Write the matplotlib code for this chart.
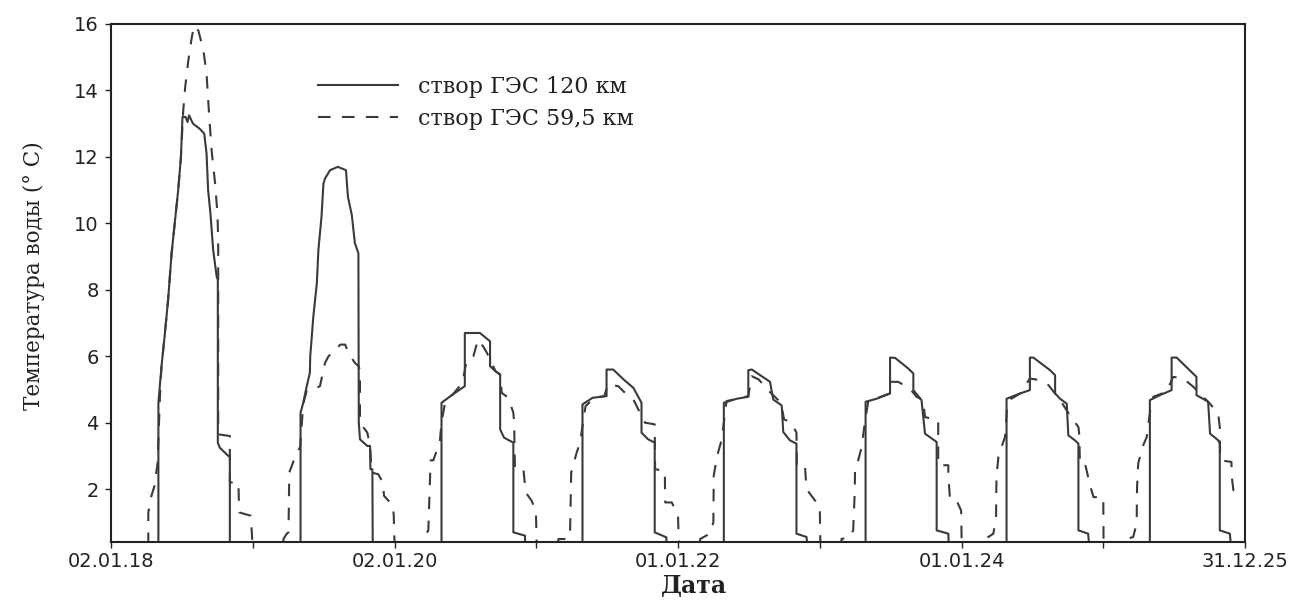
import numpy as np
import matplotlib
matplotlib.use("Agg")
import matplotlib.pyplot as plt
import matplotlib.dates as mdates
from matplotlib.ticker import FixedLocator

# Начало ряда и подписи оси времени
start = np.datetime64("2018-01-02")
major_days = [0, 730, 1460, 2190, 2920]
minor_days = [365, 1095, 1825, 2555]

# Створ ГЭС 120 км (сплошная) - сутки от начала ряда и температура по сезонам
days_120 = [
    [0, 122, 122, 130, 138, 147, 156, 165, 173, 180, 184, 192, 197, 201, 211, 228, 240, 246, 250, 256,
     263, 272, 275, 275, 280, 302, 306, 306],
    [488, 488, 495, 504, 512, 513, 521, 530, 534, 542, 547, 551, 564, 584, 605, 610, 620, 628, 637, 638,
     641, 660, 667, 668, 673, 674],
    [851, 851, 880, 911, 911, 950, 976, 976, 990, 1002, 1002, 1012, 1036, 1036, 1066, 1067],
    [1214, 1214, 1240, 1276, 1276, 1293, 1320, 1345, 1366, 1366, 1383, 1400, 1400, 1430, 1431],
    [1578, 1578, 1611, 1641, 1641, 1650, 1697, 1705, 1727, 1731, 1748, 1765, 1765, 1791, 1795],
    [1943, 1943, 1971, 2006, 2006, 2019, 2053, 2066, 2066, 2087, 2096, 2126, 2126, 2156, 2158],
    [2306, 2306, 2341, 2366, 2366, 2375, 2418, 2431, 2431, 2444, 2461, 2465, 2482, 2491, 2491, 2516, 2521],
    [2675, 2675, 2701, 2731, 2731, 2744, 2795, 2795, 2825, 2830, 2851, 2855, 2855, 2881, 2886],
]
temp_120 = [
    [0, 0, 4.6, 5.7, 6.6, 7.7, 9.1, 10.1, 11.0, 12.0, 13.2, 13.2, 13.05, 13.25, 13.0, 12.85, 12.7, 12.1,
     11.0, 10.3, 9.2, 8.4, 8.3, 3.4, 3.25, 3.0, 3.0, 0],
    [0, 4.3, 4.6, 5.1, 5.5, 6.0, 7.2, 8.2, 9.2, 10.2, 11.2, 11.35, 11.6, 11.7, 11.6, 10.8, 10.25, 9.4,
     9.1, 4.0, 3.5, 3.3, 3.3, 2.6, 2.6, 0],
    [0, 4.6, 4.85, 5.1, 6.7, 6.7, 6.45, 5.7, 5.55, 5.45, 3.8, 3.55, 3.4, 0.7, 0.6, 0],
    [0, 4.55, 4.75, 4.8, 5.6, 5.6, 5.3, 5.05, 4.6, 3.7, 3.5, 3.4, 0.7, 0.55, 0],
    [0, 4.6, 4.72, 4.78, 5.58, 5.6, 5.23, 4.7, 4.52, 3.72, 3.47, 3.37, 0.66, 0.56, 0],
    [0, 4.63, 4.72, 4.88, 5.96, 5.95, 5.63, 5.48, 4.98, 4.68, 3.67, 3.42, 0.76, 0.66, 0],
    [0, 4.72, 4.88, 4.98, 5.96, 5.96, 5.58, 5.43, 4.88, 4.72, 4.57, 3.62, 3.47, 3.37, 0.76, 0.66, 0],
    [0, 4.68, 4.83, 4.98, 5.96, 5.96, 5.38, 4.83, 4.63, 3.67, 3.47, 3.37, 0.76, 0.66, 0],
]

# Створ ГЭС 59,5 км (пунктир)
days_595 = [
    [0, 96, 96, 104, 112, 120, 126, 130, 138, 147, 156, 165, 173, 180, 186, 191, 199, 208, 214, 225,
     238, 246, 253, 259, 268, 274, 276, 276, 306, 306, 328, 330, 360, 366],
    [444, 444, 452, 457, 459, 474, 487, 495, 504, 521, 538, 551, 560, 580, 590, 603, 611, 628, 637, 641,
     641, 660, 667, 671, 688, 700, 703, 726, 728, 731],
    [800, 800, 817, 823, 830, 839, 847, 851, 860, 880, 905, 916, 933, 945, 958, 968, 980, 990, 1002, 1006,
     1023, 1036, 1038, 1040, 1062, 1066, 1068, 1083, 1094, 1097],
    [1150, 1152, 1178, 1182, 1185, 1199, 1208, 1214, 1222, 1245, 1270, 1280, 1306, 1332, 1345, 1362,
     1375, 1400, 1401, 1426, 1427, 1444, 1460, 1463],
    [1515, 1517, 1542, 1551, 1552, 1560, 1572, 1578, 1585, 1611, 1641, 1650, 1668, 1690, 1725, 1733,
     1752, 1765, 1766, 1787, 1791, 1812, 1825, 1827],
    [1880, 1881, 1903, 1911, 1915, 1916, 1924, 1933, 1941, 1950, 1975, 2005, 2006, 2027, 2057, 2074,
     2091, 2096, 2130, 2130, 2156, 2156, 2160, 2173, 2189, 2191],
    [2249, 2251, 2272, 2279, 2280, 2285, 2293, 2302, 2307, 2315, 2341, 2366, 2392, 2414, 2444, 2469,
     2491, 2493, 2495, 2508, 2516, 2522, 2530, 2555, 2556],
    [2614, 2615, 2632, 2641, 2642, 2645, 2656, 2667, 2675, 2684, 2718, 2735, 2761, 2787, 2804, 2830,
     2851, 2855, 2856, 2885, 2886, 2890, 2903, 2920],
]
temp_595 = [
    [0, 0, 1.3, 1.8, 2.1, 2.8, 4.8, 5.7, 6.6, 7.7, 9.1, 10.1, 11.0, 12.0, 13.4, 14.1, 14.9, 15.6, 15.95,
     15.8, 15.2, 14.5, 13.2, 12.2, 11.2, 10.3, 9.5, 3.65, 3.6, 2.2, 2.2, 1.3, 1.2, 0],
    [0, 0.5, 0.65, 0.7, 2.5, 2.97, 3.27, 4.57, 4.97, 5.0, 5.1, 5.8, 6.0, 6.2, 6.35, 6.35, 6.1, 5.8, 5.7,
     5.6, 4.0, 3.7, 3.3, 2.5, 2.45, 2.2, 1.8, 1.5, 1.2, 0],
    [0, 0.51, 0.75, 2.87, 2.87, 3.17, 3.47, 4.0, 4.6, 4.85, 5.2, 5.9, 6.0, 6.5, 6.3, 6.1, 5.8, 5.55, 5.45,
     4.9, 4.75, 4.3, 4.0, 2.62, 2.6, 2.1, 1.9, 1.65, 1.35, 0],
    [0, 0.5, 0.5, 0.7, 2.5, 3.1, 3.4, 3.9, 4.5, 4.75, 4.8, 5.15, 5.1, 4.8, 4.7, 4.3, 4.0, 3.95, 2.6,
     2.55, 1.6, 1.6, 1.2, 0],
    [0, 0.5, 0.66, 1.0, 2.4, 2.97, 3.47, 4.0, 4.65, 4.72, 4.8, 5.4, 5.3, 5.0, 4.6, 4.1, 4.0, 3.7, 2.67,
     2.67, 2.0, 1.67, 1.5, 0],
    [0, 0.5, 0.55, 0.76, 1.9, 2.67, 2.87, 3.27, 4.0, 4.65, 4.75, 4.88, 5.23, 5.23, 5.03, 4.78, 4.68,
     4.17, 4.07, 2.72, 2.72, 2.42, 1.76, 1.76, 1.36, 0],
    [0, 0.5, 0.66, 1.16, 2.36, 2.97, 3.27, 3.57, 4.4, 4.7, 4.88, 5.33, 5.28, 5.13, 4.68, 4.22, 3.87,
     3.67, 2.77, 2.77, 2.37, 2.07, 1.76, 1.76, 0],
    [0, 0.5, 0.56, 0.96, 2.06, 2.77, 3.27, 3.57, 4.3, 4.78, 4.93, 5.38, 5.33, 5.08, 4.88, 4.57, 4.27,
     3.87, 2.87, 2.82, 2.37, 1.97, 1.88, 1.88],
]

labels = ["створ ГЭС 120 км", "створ ГЭС 59,5 км"]


def to_dates(day_lists):
    d = np.concatenate([np.array(s) for s in day_lists])
    return start + d.astype("timedelta64[D]")


x120 = to_dates(days_120)
y120 = np.concatenate([np.array(s, dtype=float) for s in temp_120])
x595 = to_dates(days_595)
y595 = np.concatenate([np.array(s, dtype=float) for s in temp_595])

line_col = "#3a3a3a"

fig = plt.figure(figsize=(13, 6.01), dpi=100)
ax = fig.add_axes([0.0854, 0.0982, 0.8723, 0.8619])

ax.plot(x120, y120, color=line_col, linewidth=1.5, label=labels[0])
ax.plot(x595, y595, color=line_col, linewidth=1.5, linestyle=(0, (6, 5.5)), label=labels[1])

ax.set_xlim(start, start + np.timedelta64(2920, "D"))
ax.set_ylim(0.41, 16)

major_pos = mdates.date2num(start + np.array(major_days).astype("timedelta64[D]"))
minor_pos = mdates.date2num(start + np.array(minor_days).astype("timedelta64[D]"))
ax.xaxis.set_major_locator(FixedLocator(major_pos))
ax.xaxis.set_minor_locator(FixedLocator(minor_pos))
ax.xaxis.set_major_formatter(mdates.DateFormatter("%d.%m.%y"))
ax.set_yticks([2, 4, 6, 8, 10, 12, 14, 16])

for sp in ax.spines.values():
    sp.set_linewidth(1.5)
    sp.set_color("#222222")

ax.tick_params(axis="both", which="both", direction="out", length=4.5, width=1.0, color="#222222")
ax.tick_params(axis="x", labelsize=14, pad=3)
ax.tick_params(axis="y", labelsize=14, pad=4.5)
for lab in ax.get_xticklabels() + ax.get_yticklabels():
    lab.set_family("DejaVu Sans")
    lab.set_color("#222222")

ax.set_ylabel("Температура воды (° С)", family="DejaVu Serif", fontsize=15.5, color="#222222")
ax.yaxis.set_label_coords(-0.058, 0.515)
ax.set_xlabel("Дата", family="DejaVu Serif", fontsize=17, fontweight="bold", color="#222222")
ax.xaxis.set_label_coords(0.514, -0.062)

leg = ax.legend(loc="upper left", bbox_to_anchor=(0.1825, 0.9), frameon=False,
                borderpad=0, borderaxespad=0, handlelength=3.6, handletextpad=0.9,
                labelspacing=0.45, prop={"family": "DejaVu Serif", "size": 16})
for t in leg.get_texts():
    t.set_color("#222222")

fig.savefig("out.png", dpi=100)
